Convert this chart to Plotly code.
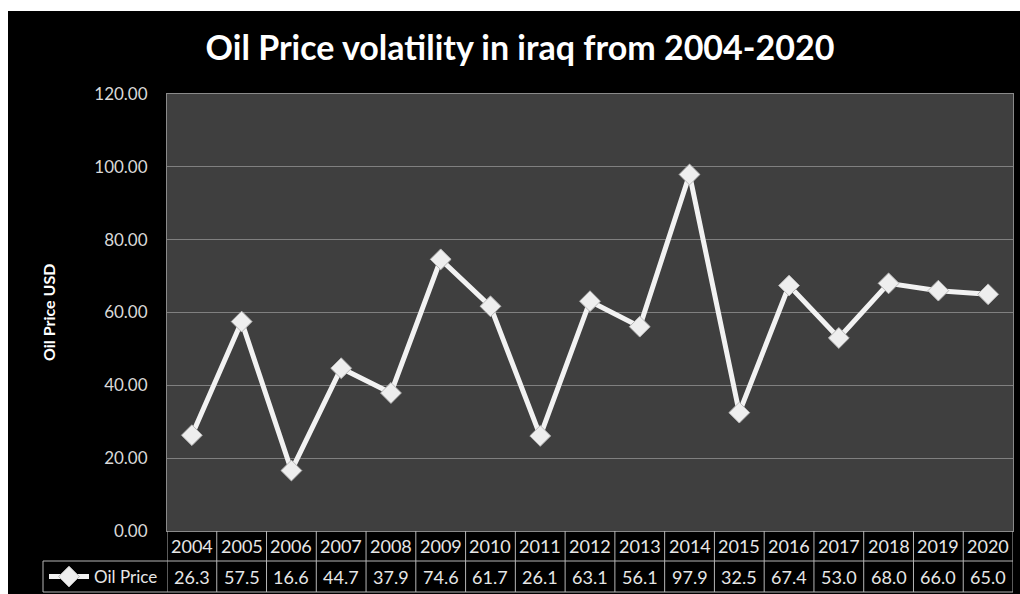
import plotly.graph_objects as go

years = ["2004", "2005", "2006", "2007", "2008", "2009", "2010", "2011", "2012",
         "2013", "2014", "2015", "2016", "2017", "2018", "2019", "2020"]
oil_price = [26.3, 57.5, 16.6, 44.7, 37.9, 74.6, 61.7, 26.1, 63.1,
             56.1, 97.9, 32.5, 67.4, 53.0, 68.0, 66.0, 65.0]
y_ticks = [0, 20, 40, 60, 80, 100, 120]
y_tick_labels = ["0.00", "20.00", "40.00", "60.00", "80.00", "100.00", "120.00"]

series_name = "Oil Price"
title_text = "Oil Price volatility in iraq from 2004-2020"
y_title = "Oil Price USD"

W, H = 1020, 594
L, R, T, B = 167, 7, 94, 63
pw, ph = W - L - R, H - T - B

def px_x(px):
    return (px - L) / pw

def px_y(py):
    return (H - B - py) / ph

FONT = "Lato"
grid_col = "#808080"
table_col = "#b5b5b5"

fig = go.Figure()
fig.add_trace(go.Scatter(
    x=years, y=oil_price, name=series_name, mode="lines+markers",
    line=dict(color="#f2f2f2", width=5),
    marker=dict(symbol="diamond", size=16, color="#eeeeee",
                line=dict(color="#b8b8b8", width=1)),
    showlegend=True,
))

shapes = []
# white page strips (outside the black chart area)
shapes.append(dict(type="rect", xref="paper", yref="paper",
                   x0=px_x(-5), x1=px_x(W + 5), y0=px_y(11), y1=px_y(-5),
                   fillcolor="white", line=dict(width=0), layer="above"))
shapes.append(dict(type="rect", xref="paper", yref="paper",
                   x0=px_x(-5), x1=px_x(8), y0=px_y(H + 5), y1=px_y(-5),
                   fillcolor="white", line=dict(width=0), layer="above"))

# data table grid
y_hdr_top = 0
y_mid = px_y(561)
y_bot = px_y(592)
x_leg = px_x(43)
n = len(years)
for i in range(n + 1):
    shapes.append(dict(type="line", xref="x", yref="paper",
                       x0=i - 0.5, x1=i - 0.5, y0=y_bot, y1=y_hdr_top,
                       line=dict(color=table_col, width=1)))
shapes.append(dict(type="line", xref="paper", yref="paper",
                   x0=x_leg, x1=x_leg, y0=y_bot, y1=y_mid,
                   line=dict(color=table_col, width=1)))
shapes.append(dict(type="line", xref="paper", yref="paper",
                   x0=x_leg, x1=1, y0=y_mid, y1=y_mid,
                   line=dict(color=table_col, width=1)))
shapes.append(dict(type="line", xref="paper", yref="paper",
                   x0=x_leg, x1=1, y0=y_bot, y1=y_bot,
                   line=dict(color=table_col, width=1)))

annotations = []
for i, (yr, v) in enumerate(zip(years, oil_price)):
    annotations.append(dict(x=i, xref="x", yref="paper", y=px_y(546),
                            xanchor="center", yanchor="middle",
                            text=yr, showarrow=False,
                            font=dict(family=FONT, size=18, color="#e6e6e6")))
    annotations.append(dict(x=i, xref="x", yref="paper", y=px_y(577),
                            xanchor="center", yanchor="middle",
                            text=f"{v:.1f}", showarrow=False,
                            font=dict(family=FONT, size=18, color="#e6e6e6")))
annotations.append(dict(x=px_x(48), y=px_y(312), xref="paper", yref="paper",
                        xanchor="center", yanchor="middle",
                        text=f"<b>{y_title}</b>", textangle=-90, showarrow=False,
                        font=dict(family=FONT, size=16, color="white")))

fig.update_layout(
    width=W, height=H,
    margin=dict(l=L, r=R, t=T, b=B, pad=0, autoexpand=False),
    paper_bgcolor="black",
    plot_bgcolor="#3f3f3f",
    title=dict(text=f"<b>{title_text}</b>", x=520 / W, xref="container",
               xanchor="center", y=1 - 48 / H, yref="container", yanchor="middle",
               font=dict(family=FONT, size=34, color="white")),
    xaxis=dict(type="category", range=[-0.5, n - 0.5], showticklabels=False,
               showgrid=False, zeroline=False, showline=True, linecolor="#8a8a8a",
               mirror=True, ticks=""),
    yaxis=dict(range=[0, 120], tickvals=y_ticks, ticktext=y_tick_labels,
               showgrid=True, gridcolor=grid_col, gridwidth=1, zeroline=False,
               showline=True, linecolor="#8a8a8a", mirror=True, ticks="",
               ticklabelstandoff=15,
               tickfont=dict(family=FONT, size=17, color="#d9d9d9")),
    legend=dict(x=44 / W, y=1 - 577 / H, xref="container", yref="container",
                xanchor="left", yanchor="middle",
                bgcolor="rgba(0,0,0,0)", font=dict(family=FONT, size=17, color="#e6e6e6"),
                itemwidth=40, borderwidth=0, tracegroupgap=0),
    shapes=shapes,
    annotations=annotations,
)

fig.write_html("out.html")
